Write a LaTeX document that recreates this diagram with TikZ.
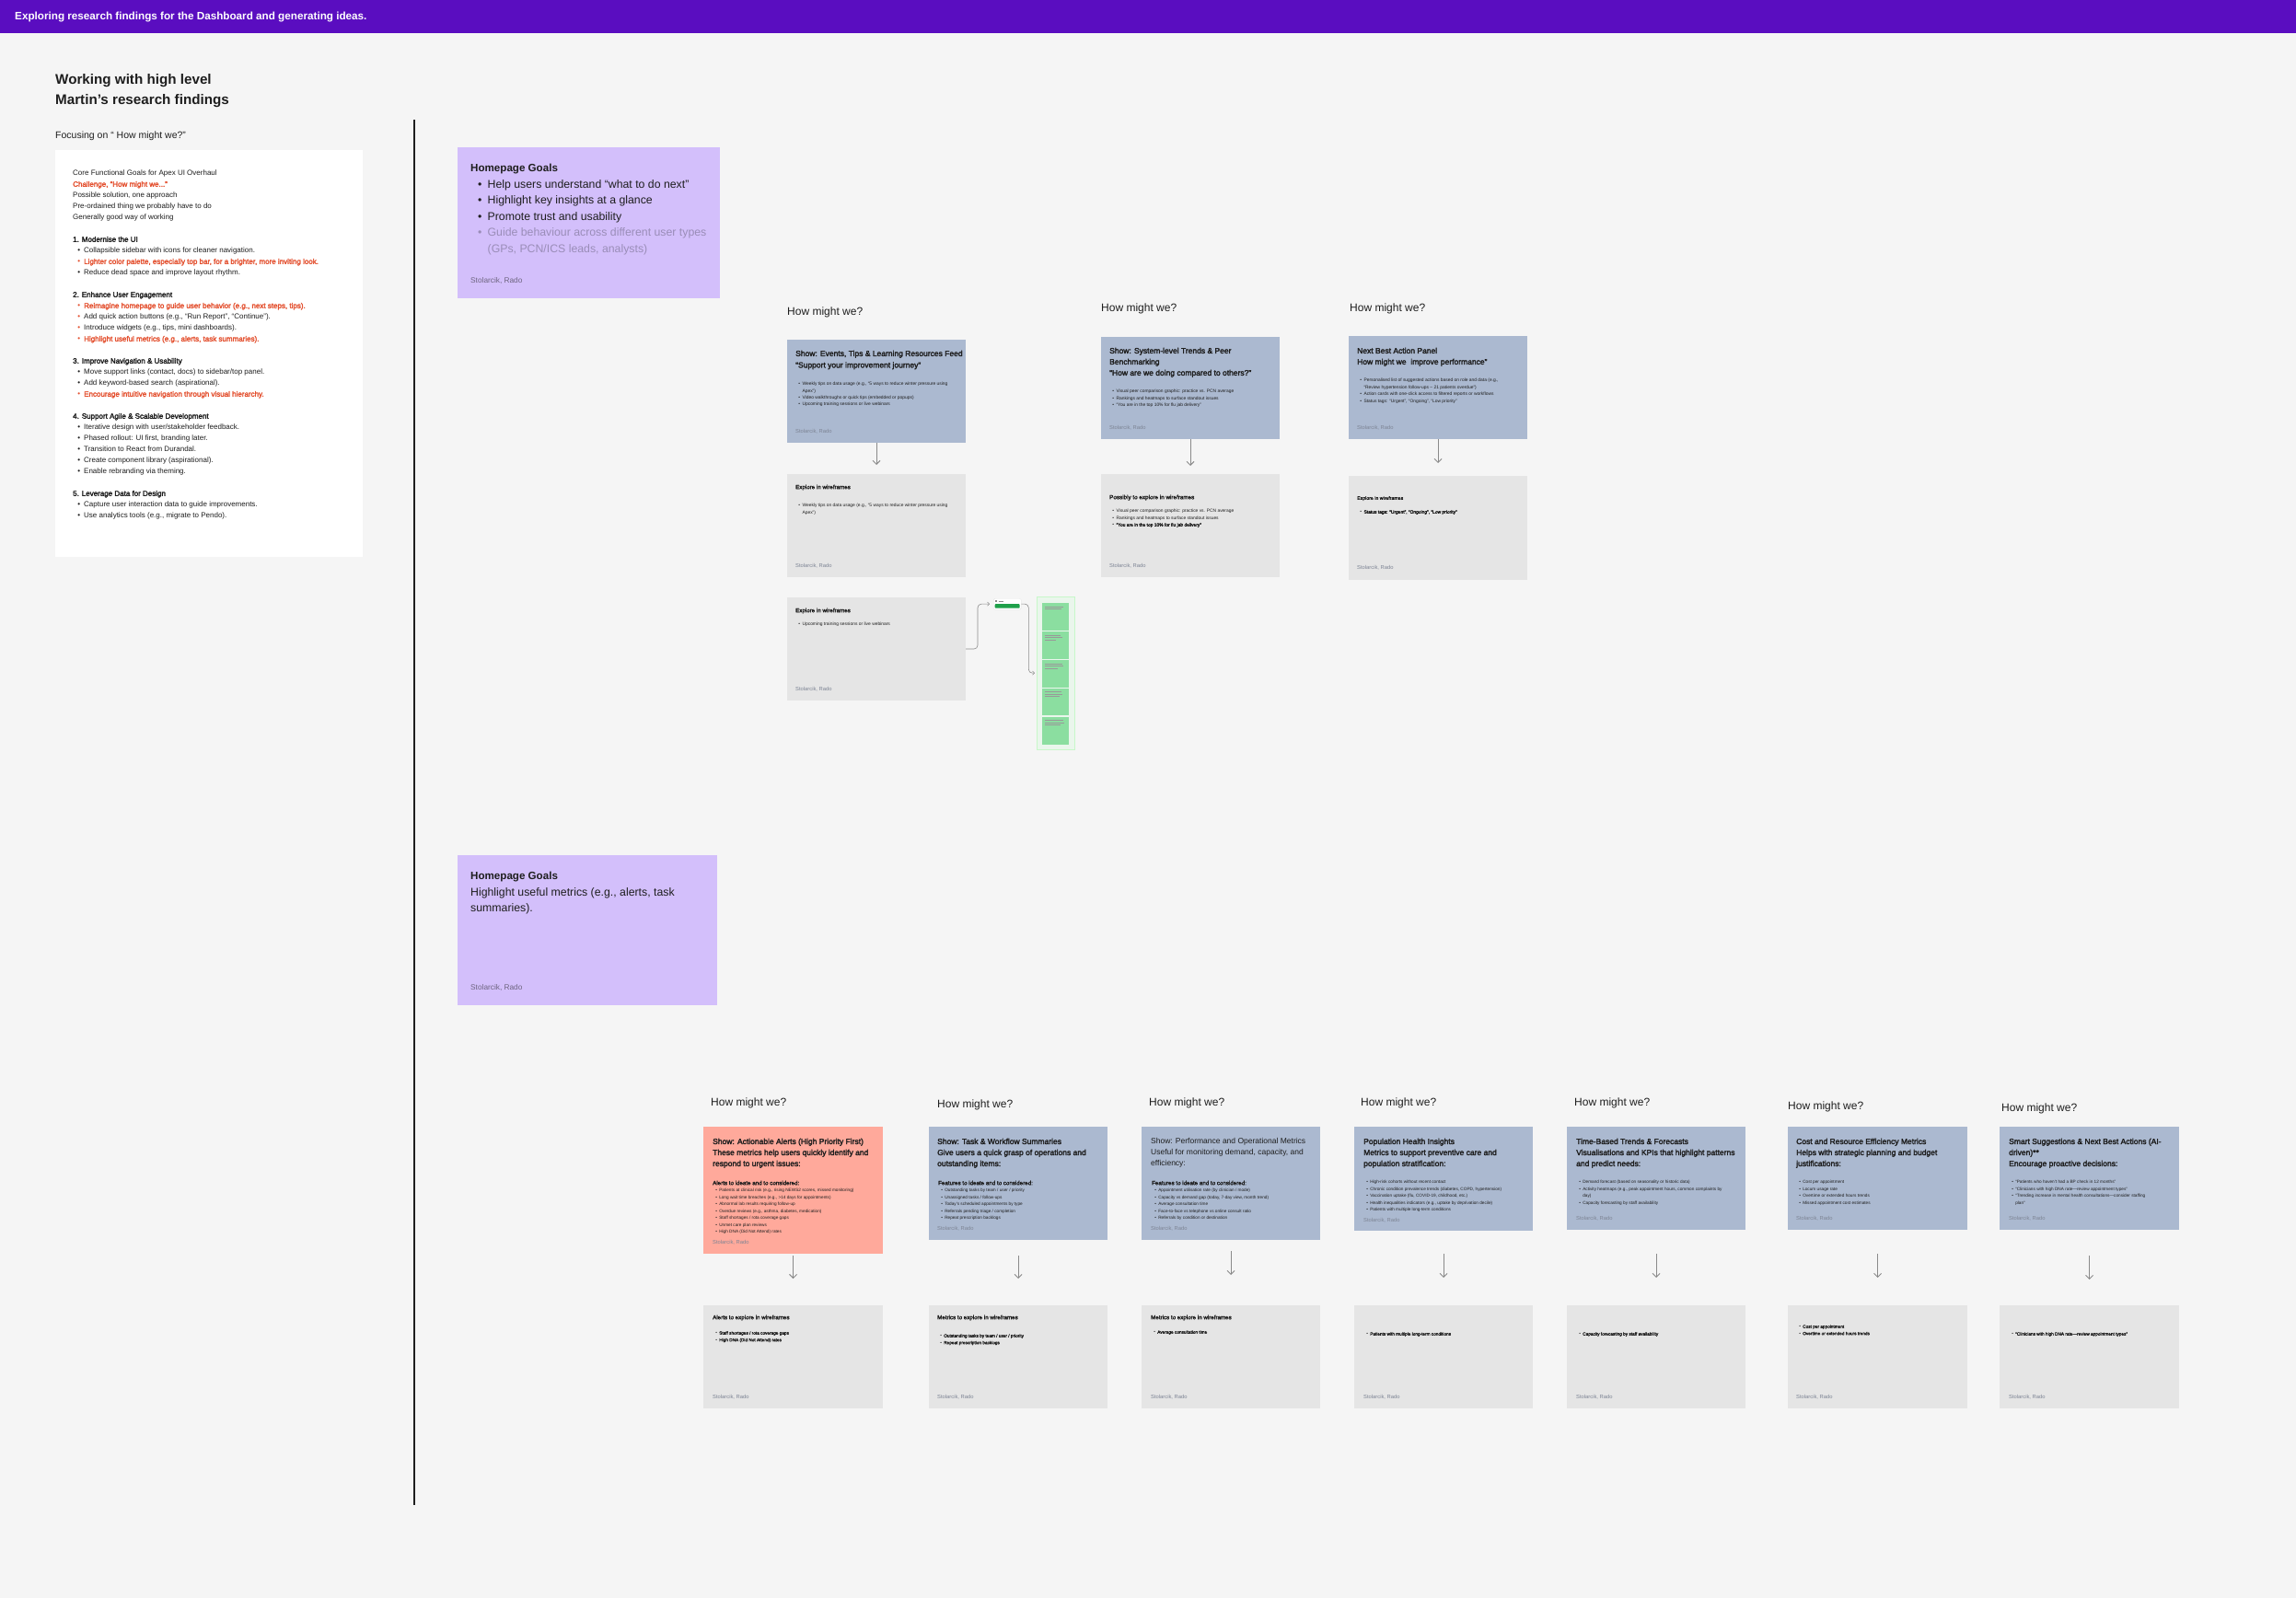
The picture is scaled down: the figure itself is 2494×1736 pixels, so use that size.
\documentclass[tikz,border=0pt]{standalone}
\usepackage{fontspec}
\setmainfont{Liberation Sans}
\newfontfamily\sbf{Liberation Sans}[FakeBold=2.6]
\usetikzlibrary{arrows.meta}
\definecolor{bg}{HTML}{F5F5F5}
\definecolor{topbar}{HTML}{5A0DC0}
\definecolor{lav}{HTML}{D3BFFB}
\definecolor{cblue}{HTML}{ABB9D0}
\definecolor{cred}{HTML}{FFA99B}
\definecolor{cgray}{HTML}{E5E5E5}
\definecolor{ink}{HTML}{1E1E1E}
\definecolor{auth}{HTML}{7D8494}
\definecolor{pauth}{HTML}{6E6580}
\definecolor{hl}{HTML}{E4502F}
\definecolor{faint}{HTML}{9A8DB8}
\definecolor{gsticky}{HTML}{8BDEA0}
\definecolor{gcont}{HTML}{EAF6EC}
\definecolor{arrowgray}{HTML}{8A8A8A}
\definecolor{btngreen}{HTML}{1FA04A}
\newcommand\cardn[6]{\node[fill=#6, anchor=north west, inner sep=0, outer sep=0, minimum width={#4-#2}, minimum height={#5-#3}] (#1) at (#2,#3) {};}
\newcommand\tnode[7]{\node[anchor=north west, inner sep=0, align=left, font=\fontsize{#4}{#5}\selectfont, #6] (#1) at ({#2},{#3-0.4*#4}) {#7};}
\newcommand\bulx{\makebox[1.5em][l]{\hspace{0.65em}•}}
\newcommand\bulr{\makebox[1.5em][l]{\hspace{0.65em}\textcolor{hl}{•}}}
\newcommand\bind{\hspace*{1.5em}}
\begin{document}
\begin{tikzpicture}[x=1pt,y=-1pt, every node/.style={text=ink},
  arr/.style={draw=arrowgray, line width=0.9pt, -{Straight Barb[length=4pt,width=8pt]}},
  conn/.style={draw=arrowgray, line width=0.6pt, rounded corners=4pt, -{Straight Barb[length=2pt,width=4pt]}},
  sticky/.style={fill=gsticky, anchor=north west, inner sep=0, minimum width=29, minimum height=29.5},
  greek/.style={draw=black!40, line width=0.5pt}]
\useasboundingbox (0,0) rectangle (2494,1736);
\fill[bg] (0,0) rectangle (2494,1736);
% top bar
\node[fill=topbar, anchor=north west, minimum width=2494, minimum height=36, inner sep=0] (bar) at (0,0) {};
\tnode{bartxt}{16}{18}{11.7}{14}{text=white}{\bfseries Exploring research findings for the Dashboard and generating ideas.}
% left section
\tnode{head}{60}{86}{15.2}{22}{}{\bfseries Working with high level\\ \bfseries Martin’s research findings}
\tnode{focus}{60}{147}{10.5}{12}{}{Focusing on “ How might we?”}
\cardn{lc}{60}{163}{394}{605}{white}
\tnode{lctext}{79}{188}{8}{12}{}{Core Functional Goals for Apex UI Overhaul\\
{\color{hl}\sbf Challenge, “How might we...”}\\
Possible solution, one approach\\
Pre-ordained thing we probably have to do\\
Generally good way of working\\[12pt]
{\sbf 1. Modernise the UI}\\
\bulx Collapsible sidebar with icons for cleaner navigation.\\
\bulr{\color{hl}\sbf Lighter color palette, especially top bar, for a brighter, more inviting look.}\\
\bulx Reduce dead space and improve layout rhythm.\\[12pt]
{\sbf 2. Enhance User Engagement}\\
\bulr{\color{hl}\sbf Reimagine homepage to guide user behavior (e.g., next steps, tips).}\\
\bulr Add quick action buttons (e.g., “Run Report”, “Continue”).\\
\bulr Introduce widgets (e.g., tips, mini dashboards).\\
\bulr{\color{hl}\sbf Highlight useful metrics (e.g., alerts, task summaries).}\\[12pt]
{\sbf 3. Improve Navigation \& Usability}\\
\bulx Move support links (contact, docs) to sidebar/top panel.\\
\bulx Add keyword-based search (aspirational).\\
\bulr{\color{hl}\sbf Encourage intuitive navigation through visual hierarchy.}\\[12pt]
{\sbf 4. Support Agile \& Scalable Development}\\
\bulx Iterative design with user/stakeholder feedback.\\
\bulx Phased rollout: UI first, branding later.\\
\bulx Transition to React from Durandal.\\
\bulx Create component library (aspirational).\\
\bulx Enable rebranding via theming.\\[12pt]
{\sbf 5. Leverage Data for Design}\\
\bulx Capture user interaction data to guide improvements.\\
\bulx Use analytics tools (e.g., migrate to Pendo).}
% divider
\coordinate (dtop) at (450,130);
\coordinate (dbot) at (450,1635);
\draw[line width=1.2pt, ink] (dtop) -- (dbot);
% purple cards
\cardn{pg1}{497}{160}{782}{324}{lav}
\tnode{pg1h}{511}{183}{12.3}{17.5}{}{{\fontsize{11.6}{17.5}\selectfont\bfseries Homepage Goals}\\
\bulx Help users understand “what to do next”\\
\bulx Highlight key insights at a glance\\
\bulx Promote trust and usability\\
{\color{faint}\bulx Guide behaviour across different user types}\\
{\color{faint}\bind (GPs, PCN/ICS leads, analysts)}}
\tnode{pg1a}{511}{305}{8.3}{10}{text=pauth}{Stolarcik, Rado}
\cardn{pg2}{497}{929}{779}{1092}{lav}
\tnode{pg2h}{511}{952}{12.3}{17.5}{}{{\fontsize{11.6}{17.5}\selectfont\bfseries Homepage Goals}\\ Highlight useful metrics (e.g., alerts, task\\ summaries).}
\tnode{pg2a}{511}{1073}{8.3}{10}{text=pauth}{Stolarcik, Rado}
% ---------- top row column A
\tnode{hA}{855}{338}{12}{14}{}{How might we?}
\cardn{a1}{855}{369}{1049}{481}{cblue}
\tnode{a1t}{864}{384}{8.5}{12.5}{}{\sbf Show: Events, Tips \& Learning Resources Feed\\ \sbf “Support your improvement journey”}
\tnode{a1b}{864}{417}{4.9}{7.4}{}{\bulx Weekly tips on data usage (e.g., “5 ways to reduce winter pressure using\\ \bind Apex”)\\ \bulx Video walkthroughs or quick tips (embedded or popups)\\ \bulx Upcoming training sessions or live webinars}
\tnode{a1a}{864}{468}{5.8}{7}{text=auth}{Stolarcik, Rado}
\cardn{a2}{855}{515}{1049}{627}{cgray}
\draw[arr, shorten >=10pt] (a1.south) -- (a2.north);
\tnode{a2t}{864}{529}{6.2}{8}{}{\sbf Explore in wireframes}
\tnode{a2b}{864}{549}{4.9}{7.4}{}{\bulx Weekly tips on data usage (e.g., “5 ways to reduce winter pressure using\\ \bind Apex”)}
\tnode{a2a}{864}{614}{5.8}{7}{text=auth}{Stolarcik, Rado}
\cardn{a3}{855}{649}{1049}{761}{cgray}
\tnode{a3t}{864}{663}{6.2}{8}{}{\sbf Explore in wireframes}
\tnode{a3b}{864}{678}{4.9}{7.4}{}{\bulx Upcoming training sessions or live webinars}
\tnode{a3a}{864}{748}{5.8}{7}{text=auth}{Stolarcik, Rado}
% widget and green stickies
\node[fill=white, draw=black!12, line width=0.3pt, rounded corners=1.5pt, anchor=north west, minimum width=30, minimum height=12, inner sep=0] (wid) at (1079,650) {};
\node[fill=btngreen, rounded corners=0.8pt, anchor=north west, minimum width=27, minimum height=4.5, inner sep=0] (widbtn) at (1080.5,656) {};
\fill[black!45] ([shift={(2,2)}]wid.north west) rectangle ++(2,2);
\draw[black!45, line width=0.4pt] ([shift={(5.5,3)}]wid.north west) -- ++(5,0);
\node[fill=gcont, draw=gcont!85!green, line width=0.3pt, anchor=north west, minimum width=41, minimum height=166, inner sep=0] (gc) at (1126,648) {};
\draw[conn] (a3.east) -- ++(13,0) |- ([xshift=-4pt]wid.west);
\draw[conn] (wid.east) -- ++(8,0) |- ([xshift=-2pt]gc.west);
\node[sticky] (s1) at (1132,655) {};
\node[sticky] (s2) at (1132,686) {};
\node[sticky] (s3) at (1132,717) {};
\node[sticky] (s4) at (1132,747.5) {};
\node[sticky, minimum height=30] (s5) at (1132,778.5) {};
\foreach \s/\a/\b/\c in {s1/20/18/0, s2/17/19/12, s3/19/20/14, s4/18/19/16, s5/20/21/17}{
  \draw[greek] ([shift={(3,4)}]\s.north west) -- ++(\a,0);
  \draw[greek] ([shift={(3,6.5)}]\s.north west) -- ++(\b,0);
  \ifnum\c>0 \draw[greek] ([shift={(3,9)}]\s.north west) -- ++(\c,0);\fi
}
% ---------- top row column B
\tnode{hB}{1196}{334}{12}{14}{}{How might we?}
\cardn{b1}{1196}{366}{1390}{477}{cblue}
\tnode{b1t}{1205}{381}{8.5}{12}{}{\sbf Show: System-level Trends \& Peer\\ \sbf Benchmarking\\ \sbf “How are we doing compared to others?”}
\tnode{b1b}{1205}{425}{4.9}{7.5}{}{\bulx Visual peer comparison graphic: practice vs. PCN average\\ \bulx Rankings and heatmaps to surface standout issues\\ \bulx “You are in the top 10\% for flu jab delivery”}
\tnode{b1a}{1205}{464}{5.8}{7}{text=auth}{Stolarcik, Rado}
\cardn{b2}{1196}{515}{1390}{627}{cgray}
\draw[arr, shorten >=9pt] (b1.south) -- (b2.north);
\tnode{b2t}{1205}{540}{6.3}{8}{}{\sbf Possibly to explore in wireframes}
\tnode{b2b}{1205}{555}{4.9}{7.5}{}{\bulx Visual peer comparison graphic: practice vs. PCN average\\ \bulx Rankings and heatmaps to surface standout issues\\ \bulx{\sbf “You are in the top 10\% for flu jab delivery”}}
\tnode{b2a}{1205}{614}{5.8}{7}{text=auth}{Stolarcik, Rado}
% ---------- top row column C
\tnode{hC}{1466}{334}{12}{14}{}{How might we?}
\cardn{c1}{1465}{365}{1659}{477}{cblue}
\tnode{c1t}{1474}{381}{8.5}{12}{}{\sbf Next Best Action Panel\\ \sbf How might we \ improve performance”}
\tnode{c1b}{1474}{413}{4.9}{7.5}{}{\bulx Personalised list of suggested actions based on role and data (e.g.,\\ \bind “Review hypertension follow-ups – 21 patients overdue”)\\ \bulx Action cards with one-click access to filtered reports or workflows\\ \bulx Status tags: “Urgent”, “Ongoing”, “Low priority”}
\tnode{c1a}{1474}{464}{5.8}{7}{text=auth}{Stolarcik, Rado}
\cardn{c2}{1465}{517}{1659}{630}{cgray}
\draw[arr, shorten >=14pt] (c1.south) -- (c2.north);
\tnode{c2t}{1474}{541}{5.2}{7}{}{\sbf Explore in wireframes}
\tnode{c2b}{1474}{556}{4.9}{7.5}{}{\bulx{\sbf Status tags: “Urgent”, “Ongoing”, “Low priority”}}
\tnode{c2a}{1474}{616}{5.8}{7}{text=auth}{Stolarcik, Rado}
% ---------- bottom row column 1
\tnode{h1}{772}{1197}{12}{14}{}{How might we?}
\cardn{r1}{764}{1224}{959}{1362}{cred}
\tnode{r1t}{774}{1240}{8.5}{12}{}{\sbf Show: Actionable Alerts (High Priority First)\\ \sbf These metrics help users quickly identify and\\ \sbf respond to urgent issues:}
\tnode{r1s}{774}{1285}{6.2}{8}{}{\sbf Alerts to ideate and to considered:}
\tnode{r1b}{774}{1293}{4.7}{7.5}{}{\bulx Patients at clinical risk (e.g., rising NEWS2 scores, missed monitoring)\\ \bulx Long wait time breaches (e.g., >14 days for appointments)\\ \bulx Abnormal lab results requiring follow-up\\ \bulx Overdue reviews (e.g., asthma, diabetes, medication)\\ \bulx Staff shortages / rota coverage gaps\\ \bulx Unmet care plan reviews\\ \bulx High DNA (Did Not Attend) rates}
\tnode{r1a}{774}{1349}{5.8}{7}{text=auth}{Stolarcik, Rado}
\cardn{w1}{764}{1418}{959}{1530}{cgray}
\draw[arr, shorten <=2pt, shorten >=29pt] (r1.south) -- (w1.north);
\tnode{w1t}{774}{1431}{6.2}{8}{}{\sbf Alerts to explore in wireframes}
\tnode{w1b}{774}{1448}{4.7}{7.5}{}{\bulx{\sbf Staff shortages / rota coverage gaps}\\ \bulx{\sbf High DNA (Did Not Attend) rates}}
\tnode{w1a}{774}{1517}{5.8}{7}{text=auth}{Stolarcik, Rado}
% ---------- bottom row column 2
\tnode{h2}{1018}{1199}{12}{14}{}{How might we?}
\cardn{r2}{1009}{1224}{1203}{1347}{cblue}
\tnode{r2t}{1018}{1240}{8.5}{12}{}{\sbf Show: Task \& Workflow Summaries\\ \sbf Give users a quick grasp of operations and\\ \sbf outstanding items:}
\tnode{r2s}{1019}{1285}{6.2}{8}{}{\sbf Features to ideate and to considered:}
\tnode{r2b}{1019}{1293}{4.7}{7.5}{}{\bulx Outstanding tasks by team / user / priority\\ \bulx Unassigned tasks / follow-ups\\ \bulx Today’s scheduled appointments by type\\ \bulx Referrals pending triage / completion\\ \bulx Repeat prescription backlogs}
\tnode{r2a}{1018}{1334}{5.8}{7}{text=auth}{Stolarcik, Rado}
\cardn{w2}{1009}{1418}{1203}{1530}{cgray}
\draw[arr, shorten <=17pt, shorten >=29pt] (r2.south) -- (w2.north);
\tnode{w2t}{1018}{1431}{6.2}{8}{}{\sbf Metrics to explore in wireframes}
\tnode{w2b}{1018}{1451}{4.7}{7.5}{}{\bulx{\sbf Outstanding tasks by team / user / priority}\\ \bulx{\sbf Repeat prescription backlogs}}
\tnode{w2a}{1018}{1517}{5.8}{7}{text=auth}{Stolarcik, Rado}
% ---------- bottom row column 3
\tnode{h3}{1248}{1197}{12}{14}{}{How might we?}
\cardn{r3}{1240}{1224}{1434}{1347}{cblue}
\tnode{r3t}{1250}{1240}{8.5}{12}{}{Show: Performance and Operational Metrics\\ Useful for monitoring demand, capacity, and\\ efficiency:}
\tnode{r3s}{1251}{1285}{6.2}{8}{}{\sbf Features to ideate and to considered:}
\tnode{r3b}{1251}{1293}{4.7}{7.5}{}{\bulx Appointment utilisation rate (by clinician / mode)\\ \bulx Capacity vs demand gap (today, 7-day view, month trend)\\ \bulx Average consultation time\\ \bulx Face-to-face vs telephone vs online consult ratio\\ \bulx Referrals by condition or destination}
\tnode{r3a}{1250}{1334}{5.8}{7}{text=auth}{Stolarcik, Rado}
\cardn{w3}{1240}{1418}{1434}{1530}{cgray}
\draw[arr, shorten <=12pt, shorten >=33pt] (r3.south) -- (w3.north);
\tnode{w3t}{1250}{1431}{6.2}{8}{}{\sbf Metrics to explore in wireframes}
\tnode{w3b}{1250}{1447}{4.7}{7.5}{}{\bulx{\sbf Average consultation time}}
\tnode{w3a}{1250}{1517}{5.8}{7}{text=auth}{Stolarcik, Rado}
% ---------- bottom row column 4
\tnode{h4}{1478}{1197}{12}{14}{}{How might we?}
\cardn{r4}{1471}{1224}{1665}{1337}{cblue}
\tnode{r4t}{1481}{1240}{8.5}{12}{}{\sbf Population Health Insights\\ \sbf Metrics to support preventive care and\\ \sbf population stratification:}
\tnode{r4b}{1481}{1284}{4.7}{7.5}{}{\bulx High-risk cohorts without recent contact\\ \bulx Chronic condition prevalence trends (diabetes, COPD, hypertension)\\ \bulx Vaccination uptake (flu, COVID-19, childhood, etc.)\\ \bulx Health inequalities indicators (e.g., uptake by deprivation decile)\\ \bulx Patients with multiple long-term conditions}
\tnode{r4a}{1481}{1325}{5.8}{7}{text=auth}{Stolarcik, Rado}
\cardn{w4}{1471}{1418}{1665}{1530}{cgray}
\draw[arr, shorten <=25pt, shorten >=30pt] (r4.south) -- (w4.north);
\tnode{w4b}{1481}{1449}{4.7}{7.5}{}{\bulx{\sbf Patients with multiple long-term conditions}}
\tnode{w4a}{1481}{1517}{5.8}{7}{text=auth}{Stolarcik, Rado}
% ---------- bottom row column 5
\tnode{h5}{1710}{1197}{12}{14}{}{How might we?}
\cardn{r5}{1702}{1224}{1896}{1336}{cblue}
\tnode{r5t}{1712}{1240}{8.5}{12}{}{\sbf Time-Based Trends \& Forecasts\\ \sbf Visualisations and KPIs that highlight patterns\\ \sbf and predict needs:}
\tnode{r5b}{1712}{1284}{4.7}{7.5}{}{\bulx Demand forecast (based on seasonality or historic data)\\ \bulx Activity heatmaps (e.g., peak appointment hours, common complaints by\\ \bind day)\\ \bulx Capacity forecasting by staff availability}
\tnode{r5a}{1712}{1323}{5.8}{7}{text=auth}{Stolarcik, Rado}
\cardn{w5}{1702}{1418}{1896}{1530}{cgray}
\draw[arr, shorten <=26pt, shorten >=30pt] (r5.south) -- (w5.north);
\tnode{w5b}{1712}{1449}{4.7}{7.5}{}{\bulx{\sbf Capacity forecasting by staff availability}}
\tnode{w5a}{1712}{1517}{5.8}{7}{text=auth}{Stolarcik, Rado}
% ---------- bottom row column 6
\tnode{h6}{1942}{1201}{12}{14}{}{How might we?}
\cardn{r6}{1942}{1224}{2137}{1336}{cblue}
\tnode{r6t}{1951}{1240}{8.5}{12}{}{\sbf Cost and Resource Efficiency Metrics\\ \sbf Helps with strategic planning and budget\\ \sbf justifications:}
\tnode{r6b}{1951}{1284}{4.7}{7.5}{}{\bulx Cost per appointment\\ \bulx Locum usage rate\\ \bulx Overtime or extended hours trends\\ \bulx Missed appointment cost estimates}
\tnode{r6a}{1951}{1323}{5.8}{7}{text=auth}{Stolarcik, Rado}
\cardn{w6}{1942}{1418}{2137}{1530}{cgray}
\draw[arr, shorten <=26pt, shorten >=30pt] (r6.south) -- (w6.north);
\tnode{w6b}{1951}{1441}{4.7}{7.5}{}{\bulx{\sbf Cost per appointment}\\ \bulx{\sbf Overtime or extended hours trends}}
\tnode{w6a}{1951}{1517}{5.8}{7}{text=auth}{Stolarcik, Rado}
% ---------- bottom row column 7
\tnode{h7}{2174}{1203}{12}{14}{}{How might we?}
\cardn{r7}{2172}{1224}{2367}{1336}{cblue}
\tnode{r7t}{2182}{1240}{8.5}{12}{}{\sbf Smart Suggestions \& Next Best Actions (AI-\\ \sbf driven)**\\ \sbf Encourage proactive decisions:}
\tnode{r7b}{2182}{1284}{4.7}{7.5}{}{\bulx “Patients who haven’t had a BP check in 12 months”\\ \bulx “Clinicians with high DNA rate—review appointment types”\\ \bulx “Trending increase in mental health consultations—consider staffing\\ \bind plan”}
\tnode{r7a}{2182}{1323}{5.8}{7}{text=auth}{Stolarcik, Rado}
\cardn{w7}{2172}{1418}{2367}{1530}{cgray}
\draw[arr, shorten <=28pt, shorten >=28pt] (r7.south) -- (w7.north);
\tnode{w7b}{2182}{1449}{4.7}{7.5}{}{\bulx{\sbf “Clinicians with high DNA rate—review appointment types”}}
\tnode{w7a}{2182}{1517}{5.8}{7}{text=auth}{Stolarcik, Rado}
\end{tikzpicture}
\end{document}
